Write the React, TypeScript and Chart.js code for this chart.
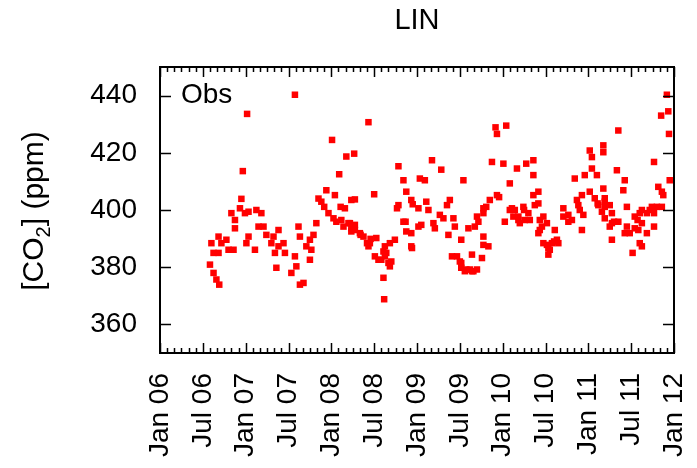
import { useEffect, useRef } from "react";
import { Chart, registerables } from "chart.js";
Chart.register(...registerables);

const FONT = '"Liberation Sans", Arial, Helvetica, sans-serif';

// x: months since Jan 2006; y: CO2 (ppm)
const months = [
  7.0, 7.2, 7.5, 7.5, 7.9, 8.2, 8.2, 8.3, 8.6, 9.3, 9.6, 10.0, 10.3, 10.5, 10.5, 11.2, 11.4, 11.6, 11.9, 12.1,
  12.2, 12.4, 12.4, 13.3, 13.5, 13.8, 14.2, 14.5, 14.9, 15.6, 15.9, 16.1, 16.3, 16.6, 16.6, 17.3, 17.5, 18.4, 18.9, 18.9,
  19.1, 19.4, 19.6, 19.6, 20.1, 20.5, 21.0, 21.0, 21.2, 21.5, 21.9, 22.2, 22.6, 23.0, 23.3, 23.6, 24.1, 24.3, 24.5, 24.7,
  25.1, 25.3, 25.4, 25.7, 25.9, 26.1, 26.4, 26.6, 26.8, 26.8, 26.8, 27.2, 27.3, 27.3, 27.3, 28.0, 28.1, 28.5, 29.0, 29.2,
  29.2, 29.4, 29.5, 30.0, 30.1, 30.3, 30.6, 31.0, 31.3, 31.3, 31.4, 31.5, 31.5, 31.7, 32.0, 32.2, 32.2, 32.4, 32.9, 33.2,
  33.4, 33.4, 34.1, 34.1, 34.4, 34.5, 34.5, 35.2, 35.2, 35.2, 35.3, 35.4, 36.2, 36.2, 36.4, 36.6, 37.1, 37.3, 37.6, 38.1,
  38.3, 38.5, 39.2, 39.4, 39.7, 40.2, 40.4, 40.6, 40.9, 41.1, 41.3, 41.6, 42.0, 42.2, 42.2, 42.2, 42.5, 42.7, 42.9, 43.2,
  43.4, 43.7, 43.7, 43.9, 44.1, 44.4, 44.4, 44.6, 45.1, 45.3, 45.3, 45.3, 45.3, 45.7, 46.0, 46.2, 46.5, 47.0, 47.2, 47.2,
  47.5, 48.1, 48.3, 48.5, 49.0, 49.0, 49.3, 49.5, 49.7, 50.0, 50.2, 50.2, 50.4, 50.9, 51.0, 51.1, 51.3, 51.6, 51.8, 52.3,
  52.3, 52.3, 52.5, 53.0, 53.0, 53.0, 53.2, 53.2, 53.5, 53.7, 53.7, 54.2, 54.2, 54.4, 54.4, 54.6, 54.9, 55.2, 55.3, 55.6,
  55.8, 56.5, 56.5, 57.2, 57.2, 57.7, 58.1, 58.4, 58.6, 58.8, 59.1, 59.1, 59.3, 59.5, 60.2, 60.2, 60.5, 60.5, 60.9, 61.2,
  61.3, 61.4, 61.9, 62.1, 62.1, 62.1, 62.3, 62.3, 62.3, 62.3, 63.0, 63.0, 63.3, 63.3, 63.3, 63.6, 64.0, 64.2, 64.2, 64.9,
  65.1, 65.1, 65.4, 65.4, 65.8, 66.2, 66.5, 66.5, 66.9, 67.0, 67.2, 67.2, 67.5, 67.5, 67.5, 68.2, 68.2, 68.6, 68.9, 69.2,
  69.2, 69.2, 69.6, 69.8, 70.2, 70.3, 70.3, 70.5, 71.0, 71.2, 71.3, 71.4,
];
const co2 = [
  380.9, 388.4, 378.0, 385.0, 375.7, 390.7, 385.0, 373.9, 388.4, 389.6, 386.1, 398.9, 386.1, 396.5, 393.6, 400.6, 403.9, 413.6, 398.9, 388.4,
  433.6, 399.4, 390.7, 386.1, 400.0, 394.2, 398.9, 394.2, 391.3, 388.4, 390.7, 385.0, 379.8, 393.0, 387.3, 388.4, 385.0, 378.0, 440.3, 383.8,
  380.3, 394.2, 390.7, 373.9, 374.5, 387.3, 389.6, 382.6, 386.1, 391.3, 395.4, 404.0, 402.9, 401.1, 406.9, 398.9, 424.5, 397.1, 405.2, 395.9,
  412.5, 401.1, 396.5, 394.2, 400.6, 418.7, 395.4, 395.4, 403.5, 393.6, 392.5, 419.7, 403.7, 394.8, 393.0, 391.9, 391.3, 390.7, 388.4, 430.7,
  387.3, 388.4, 389.9, 405.5, 383.8, 390.2, 382.6, 382.6, 385.5, 376.3, 368.8, 387.3, 383.8, 385.0, 381.5, 388.4, 380.3, 382.0, 389.6, 400.6,
  415.3, 401.7, 410.4, 395.9, 395.9, 406.4, 392.5, 403.5, 391.9, 387.3, 386.7, 402.0, 400.6, 394.2, 411.0, 394.8, 410.4, 402.9, 400.0, 417.4,
  395.4, 393.6, 398.3, 414.1, 397.1, 401.7, 391.3, 403.5, 383.8, 397.1, 394.2, 383.8, 382.0, 379.8, 381.5, 389.6, 410.4, 378.6, 379.2, 393.6,
  379.2, 384.4, 378.6, 378.6, 394.2, 397.7, 379.2, 395.9, 383.2, 400.6, 398.9, 390.7, 387.8, 401.1, 387.3, 403.5, 416.8, 428.9, 426.6, 405.2,
  404.5, 416.2, 395.9, 429.5, 409.3, 400.0, 400.6, 397.7, 400.0, 414.5, 396.5, 397.7, 395.4, 401.1, 400.0, 396.5, 416.2, 398.9, 396.5, 417.4,
  412.2, 405.2, 401.7, 406.4, 402.3, 391.9, 396.5, 393.0, 394.2, 388.4, 397.7, 395.4, 387.8, 386.7, 384.4, 386.1, 388.4, 389.0, 393.0, 389.6,
  388.4, 400.6, 397.7, 398.3, 395.9, 396.5, 411.0, 403.5, 401.7, 400.0, 405.2, 393.0, 398.3, 412.2, 420.8, 406.4, 418.5, 414.5, 404.1, 412.2,
  402.3, 401.7, 399.4, 422.6, 420.2, 407.5, 404.1, 402.9, 401.1, 397.1, 401.7, 394.2, 398.9, 395.4, 389.6, 395.9, 413.9, 427.8, 395.9, 406.9,
  410.4, 391.9, 401.1, 394.2, 391.9, 385.0, 393.6, 397.7, 396.5, 393.0, 398.9, 388.4, 400.0, 387.3, 395.4, 391.9, 398.9, 400.0, 401.1, 394.2,
  398.9, 416.8, 401.1, 408.1, 433.0, 401.1, 406.4, 405.2, 440.3, 434.5, 426.6, 410.4,
];

const xTickValues = [0, 6, 12, 18, 24, 30, 36, 42, 48, 54, 60, 66, 72];
const xTickLabels = [
  "Jan 06", "Jul 06", "Jan 07", "Jul 07", "Jan 08", "Jul 08", "Jan 09",
  "Jul 09", "Jan 10", "Jul 10", "Jan 11", "Jul 11", "Jan 12",
];
const yTickValues = [360, 380, 400, 420, 440];

const TITLE = "LIN";
const SERIES = "Obs";

const decor = {
  id: "decor",
  afterDraw(chart: any) {
    const { ctx, chartArea, scales } = chart;
    const { left, right, top, bottom } = chartArea;
    const xs = scales.x;
    const ys = scales.y;
    ctx.save();
    ctx.strokeStyle = "#000";
    ctx.fillStyle = "#000";
    // frame
    ctx.lineWidth = 2;
    ctx.strokeRect(left, top, right - left, bottom - top);
    // x ticks (monthly minor, 6-monthly major), top and bottom, inward
    ctx.lineWidth = 1.5;
    ctx.beginPath();
    for (let m = 0; m <= 72; m++) {
      const px = Math.round(xs.getPixelForValue(m)) + 0.5;
      const len = m % 6 === 0 ? 10 : 5;
      ctx.moveTo(px, bottom);
      ctx.lineTo(px, bottom - len);
      ctx.moveTo(px, top);
      ctx.lineTo(px, top + len);
    }
    for (const v of yTickValues) {
      const py = Math.round(ys.getPixelForValue(v)) + 0.5;
      ctx.moveTo(left, py);
      ctx.lineTo(left + 11, py);
      ctx.moveTo(right, py);
      ctx.lineTo(right - 11, py);
    }
    ctx.stroke();
    // title
    ctx.font = `29px ${FONT}`;
    ctx.textAlign = "center";
    ctx.textBaseline = "alphabetic";
    ctx.fillText(TITLE, (left + right) / 2, 29);
    // series label
    ctx.font = `28px ${FONT}`;
    ctx.textAlign = "left";
    ctx.fillText(SERIES, left + 21, 103);
    // y-axis title: [CO2] (ppm) with subscript
    const big = `30px ${FONT}`;
    const small = `20px ${FONT}`;
    const parts = [
      { t: "[CO", f: big, dy: 0 },
      { t: "2", f: small, dy: 7 },
      { t: "] (ppm)", f: big, dy: 0 },
    ];
    let total = 0;
    for (const p of parts) {
      ctx.font = p.f;
      total += ctx.measureText(p.t).width;
    }
    ctx.translate(43, 211);
    ctx.rotate(-Math.PI / 2);
    let cx = -total / 2;
    for (const p of parts) {
      ctx.font = p.f;
      ctx.fillText(p.t, cx, p.dy);
      cx += ctx.measureText(p.t).width;
    }
    ctx.restore();
  },
};

export default function App() {
  const ref = useRef<HTMLCanvasElement | null>(null);
  useEffect(() => {
    if (!ref.current) return;
    const chart = new Chart(ref.current, {
      type: "scatter",
      data: {
        datasets: [
          {
            label: SERIES,
            data: months.map((m, i) => ({ x: m, y: co2[i] })),
            pointStyle: "rect",
            pointRadius: 4.6,
            pointBorderWidth: 0,
            backgroundColor: "#ff0000",
            borderColor: "#ff0000",
          },
        ],
      },
      options: {
        responsive: false,
        animation: false,
        layout: { padding: { top: 67, right: 23, left: 0, bottom: 0 } },
        plugins: { legend: { display: false }, tooltip: { enabled: false }, title: { display: false } },
        scales: {
          x: {
            type: "linear",
            min: 0,
            max: 72,
            grid: { display: false, drawTicks: false },
            border: { display: false },
            afterBuildTicks: (s: any) => {
              s.ticks = xTickValues.map((v) => ({ value: v }));
            },
            afterFit: (s: any) => {
              s.height = 115;
              s.paddingLeft = 0;
              s.paddingRight = 0;
            },
            ticks: {
              autoSkip: false,
              minRotation: 90,
              maxRotation: 90,
              padding: 20,
              color: "#000",
              font: { family: FONT, size: 28 },
              callback: (v: any) => xTickLabels[xTickValues.indexOf(Number(v))] ?? "",
            },
          },
          y: {
            min: 350,
            max: 450,
            grid: { display: false, drawTicks: false },
            border: { display: false },
            afterBuildTicks: (s: any) => {
              s.ticks = yTickValues.map((v) => ({ value: v }));
            },
            afterFit: (s: any) => {
              s.width = 160;
              s.paddingTop = 0;
              s.paddingBottom = 0;
            },
            ticks: {
              padding: 23,
              color: "#000",
              font: { family: FONT, size: 28 },
            },
          },
        },
      },
      plugins: [decor],
    });
    return () => chart.destroy();
  }, []);
  return (
    <div style={{ position: "absolute", left: 0, top: 0, width: 697, height: 468, background: "#fff" }}>
      <canvas ref={ref} width={697} height={468} />
    </div>
  );
}
